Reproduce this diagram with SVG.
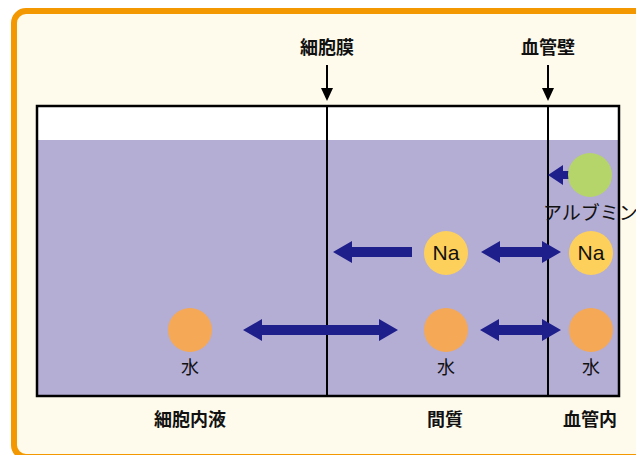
<svg xmlns="http://www.w3.org/2000/svg" width="636" height="455" viewBox="0 0 636 455">
<defs>
<style>
.t{font-family:"Noto Sans CJK JP","Liberation Sans",sans-serif;font-size:18px;fill:#111;text-anchor:middle}
.b{font-weight:bold}
.na{font-family:"Liberation Sans",sans-serif;font-size:21px}
.arr{fill:#1F1F8C}
.ln{stroke:#000;stroke-width:2;fill:none}
</style>
</defs>
<rect x="14" y="11" width="700" height="446" rx="12" fill="#FFFBEC" stroke="#F39800" stroke-width="6"/>
<g id="box">
<rect x="37" y="106" width="582" height="290" fill="#FFFFFF"/>
<rect x="37" y="140" width="582" height="256" fill="#B4ADD4"/>
<rect x="37" y="106" width="582" height="290" fill="none" stroke="#000" stroke-width="2.5"/>
</g>
<g id="membranes">
<line class="ln" x1="327" y1="106" x2="327" y2="396"/>
<line class="ln" x1="548" y1="106" x2="548" y2="396"/>
</g>
<g id="label-cellmembrane">
<text class="t b" x="327" y="54">細胞膜</text>
<line class="ln" x1="327" y1="65" x2="327" y2="90"/>
<polygon points="321,88 333,88 327,101" fill="#000"/>
</g>
<g id="label-vesselwall">
<text class="t b" x="548" y="54">血管壁</text>
<line class="ln" x1="548" y1="65" x2="548" y2="90"/>
<polygon points="542,88 554,88 548,101" fill="#000"/>
</g>
<g id="connectors">
<polygon class="arr" points="548,175 563,165 563,171 575,171 575,179 563,179 563,185"/>
<polygon class="arr" points="333,252 352,241 352,247 412,247 412,257 352,257 352,263"/>
<polygon class="arr" points="481,252 500,241 500,247 542,247 542,241 561,252 542,263 542,257 500,257 500,263"/>
<polygon class="arr" points="243,330 262,319 262,325 379,325 379,319 398,330 379,341 379,335 262,335 262,341"/>
<polygon class="arr" points="480,330 499,319 499,325 542,325 542,319 561,330 542,341 542,335 499,335 499,341"/>
</g>
<g id="albumin">
<circle cx="590" cy="175" r="22" fill="#B5D56A"/>
<text class="t" x="543" y="220" style="text-anchor:start;font-size:19px">アルブミン</text>
</g>
<g id="na-interstitial">
<circle cx="446" cy="253" r="22" fill="#FDD05B"/>
<text class="t na" x="446" y="260">Na</text>
</g>
<g id="na-vessel">
<circle cx="591" cy="253" r="22" fill="#FDD05B"/>
<text class="t na" x="591" y="260">Na</text>
</g>
<g id="water-cell">
<circle cx="190" cy="330" r="22" fill="#F5A855"/>
<text class="t" x="190" y="374">水</text>
</g>
<g id="water-interstitial">
<circle cx="446" cy="330" r="22" fill="#F5A855"/>
<text class="t" x="446" y="374">水</text>
</g>
<g id="water-vessel">
<circle cx="591" cy="330" r="22" fill="#F5A855"/>
<text class="t" x="591" y="374">水</text>
</g>
<g id="region-labels">
<text class="t b" x="190" y="426">細胞内液</text>
<text class="t b" x="445" y="426">間質</text>
<text class="t b" x="590" y="426">血管内</text>
</g>
</svg>
